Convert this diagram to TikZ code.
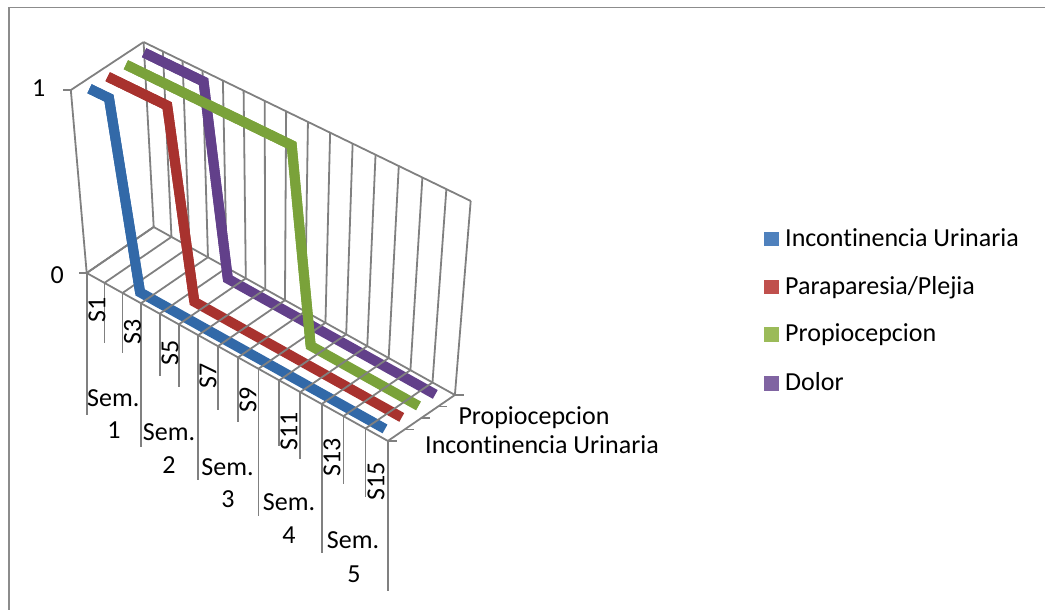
\documentclass[tikz,border=0pt]{standalone}
\usepackage{fontspec}
\setmainfont{Carlito}[Ligatures=CommonOff]
\definecolor{gridgray}{RGB}{128,128,128}
\definecolor{framegray}{RGB}{140,140,140}
\definecolor{blueL}{RGB}{50,105,168}
\definecolor{redL}{RGB}{168,50,46}
\definecolor{greenL}{RGB}{122,162,58}
\definecolor{purpL}{RGB}{98,64,138}
\definecolor{blueK}{RGB}{79,129,189}
\definecolor{redK}{RGB}{192,80,77}
\definecolor{greenK}{RGB}{155,187,89}
\definecolor{purpK}{RGB}{128,100,162}
\newcommand\defpt[4]{\coordinate (#1) at ({bx(#2,#3)+(#4)*ux(bx(#2,#3))},{by(#2,#3)+(#4)*uy(bx(#2,#3))});}
\begin{document}
\begin{tikzpicture}[x=1pt,y=-1pt,
  declare function={
    cpx(\c)=17.59*\c+0.166*\c*\c;
    bx(\c,\z)=86.7+cpx(\c)+67*\z;
    by(\c,\z)=273+0.5576*cpx(\c)-46*\z;
    ux(\x)=-10+0.086*(\x-155);
    uy(\x)=-185-0.03*(\x-155);
  },
  grid/.style={draw=gridgray,line width=1.8pt},
  ser/.style={draw=#1,line width=10pt,line cap=butt,line join=miter},
  lbl/.style={font=\fontsize{26}{31}\selectfont,inner sep=0pt,text=black},
  key/.style={fill=#1}
]
\useasboundingbox (0,0) rectangle (1045,610);
% frame
\coordinate (fa) at (9,610);
\coordinate (fb) at (9,7.5);
\coordinate (fc) at (1045,7.5);
\draw[draw=framegray,line width=1.5pt] (fa) -- (fb) -- (fc);

% back wall
\foreach \c in {0,...,15}{
  \defpt{bb\c}{\c}{1}{0}
  \defpt{bt\c}{\c}{1}{1}
  \defpt{ff\c}{\c}{0}{0}
  \draw[grid] (bb\c) -- (bt\c);
}
\defpt{lt}{0}{0}{1}
\draw[grid] (bt0) -- (bt15);
\draw[grid] (bb0) -- (bb15);
% left wall
\draw[grid] (ff0) -- (lt) -- (bt0);
\draw[grid] (ff0) -- (bb0);
% value ticks
\draw[grid] (ff0) -- ++(-8,0);
\draw[grid] (lt) -- ++(-8,0);
% category ticks
\foreach \c in {0,...,15}{
  \pgfmathsetmacro\tl{ifthenelse(mod(\c,3)==0,142+0.55*\c,59+0.7*\c)}
  \draw[grid] (ff\c) -- ++(0,\tl);
}
% depth ticks
\foreach \z [count=\i] in {0,0.25,0.5,0.75,1}{
  \defpt{dz\i}{15}{\z}{0}
  \draw[grid] (dz\i) -- ++(9,0);
}

% series points
\defpt{b1}{0.5}{0.125}{1}
\defpt{b2}{1.5}{0.125}{1}
\defpt{b3}{2.5}{0.125}{0}
\defpt{b4}{14.5}{0.125}{0}
\defpt{r1}{0.5}{0.375}{1}
\defpt{r2}{3.5}{0.375}{1}
\defpt{r3}{4.5}{0.375}{0}
\defpt{r4}{14.5}{0.375}{0}
\defpt{g1}{0.5}{0.625}{1}
\defpt{g2}{8.5}{0.625}{1}
\defpt{g3}{9.5}{0.625}{0}
\defpt{g4}{14.5}{0.625}{0}
\defpt{p1}{0.5}{0.875}{1}
\defpt{p2}{3.5}{0.875}{1}
\defpt{p3}{4.5}{0.875}{0}
\defpt{p4}{14.5}{0.875}{0}

% full series
\draw[ser=purpL] (p1) -- (p2) -- (p3) -- (p4);
\draw[ser=greenL] (g1) -- (g2) -- (g3) -- (g4);
\draw[ser=redL] (r1) -- (r2) -- (r3) -- (r4);
\draw[ser=blueL] (b1) -- (b2) -- (b3) -- (b4);

% floor grid over the ribbons lying on it
\foreach \c in {0,...,15}{
  \draw[grid] (ff\c) -- (bb\c);
}
\draw[grid] (ff0) -- (ff15);

% raised parts of the series again
\draw[ser=purpL] (p1) -- (p2) -- (p3);
\draw[ser=greenL] (g1) -- (g2) -- (g3);
\draw[ser=redL] (r1) -- (r2) -- (r3);
\draw[ser=blueL] (b1) -- (b2) -- (b3);

% value labels
\node[lbl,anchor=base east] (v1) at (45.5,96.7) {1};
\node[lbl,anchor=base east] (v0) at (64,283.3) {0};

% category labels
\node[lbl,rotate=90] (s1) at (97,310) {S1};
\node[lbl,rotate=90] (s3) at (132.5,331.7) {S3};
\node[lbl,rotate=90] (s5) at (170,353) {S5};
\node[lbl,rotate=90] (s7) at (208,376) {S7};
\node[lbl,rotate=90] (s9) at (248,400) {S9};
\node[lbl,rotate=90] (s11) at (289,431) {S11};
\node[lbl,rotate=90] (s13) at (332,457) {S13};
\node[lbl,rotate=90] (s15) at (376,481) {S15};

% week labels
\node[lbl,anchor=base] (w1a) at (113.3,406.7) {Sem.};
\node[lbl,anchor=base] (w1b) at (114,438.3) {1};
\node[lbl,anchor=base] (w2a) at (169,440) {Sem.};
\node[lbl,anchor=base] (w2b) at (169,473) {2};
\node[lbl,anchor=base] (w3a) at (227.5,475) {Sem.};
\node[lbl,anchor=base] (w3b) at (228,507) {3};
\node[lbl,anchor=base] (w4a) at (289,510) {Sem.};
\node[lbl,anchor=base] (w4b) at (289,543) {4};
\node[lbl,anchor=base] (w5a) at (353,548) {Sem.};
\node[lbl,anchor=base] (w5b) at (354,582) {5};

% depth labels
\node[lbl,anchor=base west] (dprop) at (458.3,424) {Propiocepcion};
\node[lbl,anchor=base west] (dinc) at (425,453) {Incontinencia Urinaria};

% legend
\fill[key=blueK] (764,232) rectangle (779,246);
\fill[key=redK] (764,279.5) rectangle (779,294);
\fill[key=greenK] (764,327) rectangle (779,342);
\fill[key=purpK] (764,375.5) rectangle (779,391);
\node[lbl,anchor=base west] (k1) at (785,246) {Incontinencia Urinaria};
\node[lbl,anchor=base west] (k2) at (785,294) {Paraparesia/Plejia};
\node[lbl,anchor=base west] (k3) at (785,341.7) {Propiocepcion};
\node[lbl,anchor=base west] (k4) at (785,390.7) {Dolor};
\end{tikzpicture}
\end{document}
